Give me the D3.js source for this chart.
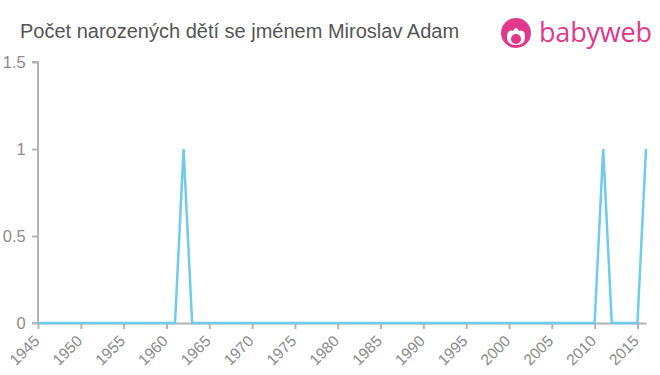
<!DOCTYPE html>
<html>
  <head>
    <meta charset="utf-8">
    <title>Počet narozených dětí se jménem Miroslav Adam</title>
    <script src="https://cdn.jsdelivr.net/npm/d3@7"></script>
    <style>
      body { margin: 0; background: #fff; font-family: "Liberation Sans", Arial, sans-serif; }
      .axis path, .axis line { stroke: #b3b3b3; stroke-width: 2; }
      .axis text { fill: #8c8c8c; font-size: 16.5px; font-family: "Liberation Sans", Arial, sans-serif; }
    </style>
  </head>
  <body>
    <svg id="chart" width="660" height="375"></svg>
    <script>
      // data
      years = [
        1945, 1946, 1947, 1948, 1949, 1950, 1951, 1952, 1953, 1954,
        1955, 1956, 1957, 1958, 1959, 1960, 1961, 1962, 1963, 1964,
        1965, 1966, 1967, 1968, 1969, 1970, 1971, 1972, 1973, 1974,
        1975, 1976, 1977, 1978, 1979, 1980, 1981, 1982, 1983, 1984,
        1985, 1986, 1987, 1988, 1989, 1990, 1991, 1992, 1993, 1994,
        1995, 1996, 1997, 1998, 1999, 2000, 2001, 2002, 2003, 2004,
        2005, 2006, 2007, 2008, 2009, 2010, 2011, 2012, 2013, 2014,
        2015, 2016
      ];
      births = [
        0, 0, 0, 0, 0, 0, 0, 0, 0, 0,
        0, 0, 0, 0, 0, 0, 0, 1, 0, 0,
        0, 0, 0, 0, 0, 0, 0, 0, 0, 0,
        0, 0, 0, 0, 0, 0, 0, 0, 0, 0,
        0, 0, 0, 0, 0, 0, 0, 0, 0, 0,
        0, 0, 0, 0, 0, 0, 0, 0, 0, 0,
        0, 0, 0, 0, 0, 0, 1, 0, 0, 0,
        0, 1
      ];
      xTicks = [1945, 1950, 1955, 1960, 1965, 1970, 1975, 1980, 1985, 1990,
                1995, 2000, 2005, 2010, 2015];
      yTicks = [0, 0.5, 1, 1.5];
      title = "Počet narozených dětí se jménem Miroslav Adam";

      svg = d3.select("#chart");
      margin = { left: 38, right: 14, top: 62, bottom: 52 };
      width = 660;
      height = 375;

      x = d3.scaleLinear()
        .domain([1945, 2016])
        .range([margin.left, width - margin.right]);
      y = d3.scaleLinear()
        .domain([0, 1.5])
        .range([height - margin.bottom, margin.top]);

      // title
      svg.append("text")
        .attr("x", 20)
        .attr("y", 38)
        .attr("fill", "#555")
        .style("font-size", "20px")
        .text(title);

      // logo
      logo = svg.append("g").attr("transform", "translate(516,33)");
      logo.append("circle")
        .attr("r", 15)
        .attr("fill", "#e0398c");
      logo.append("path")
        .attr("d", "M-9,4 Q-9,-4 -3,-2 Q0,-8 3,-2 Q9,-4 9,4 Q9,12 0,12 Q-9,12 -9,4 Z")
        .attr("fill", "#fff");
      logo.append("circle")
        .attr("cx", 0).attr("cy", 6).attr("r", 5)
        .attr("fill", "#e0398c");
      logo.append("text")
        .attr("x", 23)
        .attr("y", 9)
        .attr("fill", "#e0398c")
        .style("font-size", "27px")
        .style("font-family", "'Open Sans', sans-serif")
        .attr("textLength", 113)
        .text("babyweb");

      // axes
      xAxis = svg.append("g")
        .attr("class", "axis")
        .attr("transform", "translate(0," + y(0) + ")")
        .call(d3.axisBottom(x).tickValues(xTicks).tickFormat(d3.format("d")).tickSize(6).tickSizeOuter(0));
      // label end sits just right of and below each tick
      xAxis.selectAll("text")
        .style("font-size", "15.5px")
        .attr("text-anchor", "end")
        .attr("x", -12)
        .attr("y", 14.8)
        .attr("dy", 0)
        .attr("transform", "rotate(-45)");

      yAxis = svg.append("g")
        .attr("class", "axis")
        .attr("transform", "translate(" + margin.left + ",0)")
        .call(d3.axisLeft(y).tickValues(yTicks).tickFormat(d3.format("")).tickSize(6).tickSizeOuter(6));
      yAxis.selectAll("text").attr("dx", "-0.2em");
      yAxis.select(".domain").attr("d", "M-6," + y(1.5) + "H0V" + y(0) + "H-6");

      // line
      line = d3.line()
        .x(function(d, i) { return x(years[i]); })
        .y(function(d) { return y(d); });
      svg.append("path")
        .datum(births)
        .attr("fill", "none")
        .attr("stroke", "#6fcbea")
        .attr("stroke-width", 2.5)
        .attr("d", line);
    </script>
  </body>
</html>
